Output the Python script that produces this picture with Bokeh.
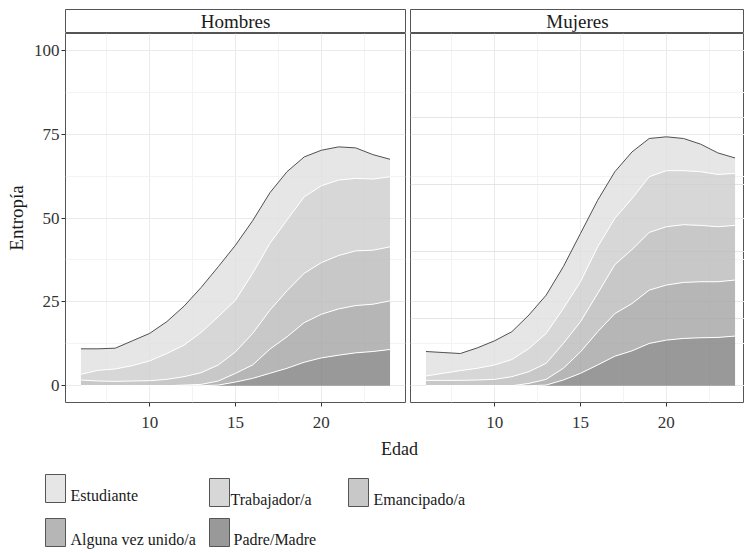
from bokeh.plotting import figure
from bokeh.models import ColumnDataSource, FixedTicker, Range1d, Grid
from bokeh.layouts import column, row
from bokeh.core.properties import value
from bokeh.transform import stack
from bokeh.embed import file_html
from bokeh.resources import INLINE

# ---------------- data ----------------
ages = list(range(6, 25))
panels = ["Hombres", "Mujeres"]
# stacking order, bottom to top
categories = ["Padre/Madre", "Alguna vez unido/a", "Emancipado/a", "Trabajador/a", "Estudiante"]
colors = ["#808080", "#a4a4a4", "#bababa", "#cdcdcd", "#e0e0e0"]
fill_alpha = 0.8

h_padre = [0, 0, 0, 0, 0, 0, 0, 0, 0.2, 1.1, 2.2, 3.7, 5.2, 7.0, 8.3, 9.1, 9.8, 10.2, 10.8]
h_unido = [0, 0, 0, 0, 0, 0, 0.2, 0.4, 1.2, 2.6, 4.0, 7.2, 9.4, 11.8, 13.0, 13.8, 14.1, 14.1, 14.5]
h_emanc = [1.7, 1.4, 1.3, 1.4, 1.5, 1.9, 2.5, 3.5, 4.8, 6.4, 9.4, 11.6, 13.7, 14.7, 15.4, 15.9, 16.3, 16.1, 16.1]
h_trab = [1.7, 3.2, 3.7, 4.6, 5.9, 7.7, 9.4, 12.0, 14.4, 15.4, 17.9, 19.9, 21.1, 22.8, 22.9, 22.5, 21.6, 21.2, 20.9]
h_estu = [7.6, 6.4, 6.2, 7.4, 8.2, 9.5, 11.6, 13.4, 14.9, 16.4, 15.7, 15.1, 14.4, 11.9, 10.6, 9.9, 9.1, 7.3, 5.2]

m_padre = [0, 0, 0, 0, 0, 0, 0, 0.2, 1.7, 3.7, 6.2, 8.8, 10.4, 12.6, 13.6, 14.1, 14.3, 14.4, 14.8]
m_unido = [0, 0, 0, 0, 0, 0, 0.7, 1.7, 3.5, 6.4, 9.9, 12.7, 14.1, 15.9, 16.4, 16.7, 16.7, 16.6, 16.7]
m_emanc = [1.6, 1.6, 1.6, 1.7, 1.9, 2.7, 3.5, 4.8, 7.4, 9.0, 11.4, 14.6, 16.1, 17.2, 17.4, 17.2, 16.8, 16.4, 16.3]
m_trab = [1.3, 2.1, 2.9, 3.5, 4.3, 5.1, 6.9, 8.9, 10.4, 11.9, 13.9, 13.8, 15.2, 16.6, 16.7, 16.1, 16.0, 15.6, 15.5]
m_estu = [7.3, 6.2, 5.1, 6.1, 7.2, 8.3, 10.0, 11.4, 12.5, 14.4, 13.9, 13.9, 13.9, 11.4, 10.1, 9.6, 8.2, 6.4, 4.6]

x_ticks = [10, 15, 20]
x_minor = [7.5, 12.5, 17.5, 22.5]
y_ticks = [0, 25, 50, 75, 100]
y_minor = [12.5, 37.5, 62.5, 87.5]

x_label = "Edad"
y_label = "Entropía"

FONT = "'Liberation Serif'"
DARK = "#555555"
GRID = "#ebebeb"
GRID_MINOR = "#f3f3f3"


def base_fig(**kw):
    return figure(output_backend="svg", toolbar_location=None, **kw)


def make_strip(name, width, left, right):
    s = base_fig(width=width, height=33, x_range=Range1d(0, 1), y_range=Range1d(0, 1),
                 x_axis_location=None, y_axis_location=None,
                 min_border_left=left, min_border_right=right,
                 min_border_top=9, min_border_bottom=0)
    s.grid.visible = False
    s.outline_line_color = DARK
    s.outline_line_width = 1
    s.background_fill_color = "white"
    s.border_fill_color = "white"
    s.text(x=[0.5], y=[0.5], text=[name], text_font=value(FONT),
           text_font_size=value("19px"), text_align="center",
           text_baseline="middle", text_color="#1a1a1a")
    return s


def make_panel(series, first, width, left, right, xend):
    kw = dict(width=width, height=405, x_range=Range1d(5.1, xend),
              y_range=Range1d(-5, 105), min_border_left=left,
              min_border_right=right, min_border_top=0, min_border_bottom=36)
    if not first:
        kw["y_axis_location"] = None
    p = base_fig(**kw)
    keys = [f"s{i}" for i in range(len(categories))]
    data = {"x": ages}
    for k, vals in zip(keys, series):
        data[k] = vals
    src = ColumnDataSource(data)

    xt = FixedTicker(ticks=x_ticks, minor_ticks=x_minor)
    yt = FixedTicker(ticks=y_ticks, minor_ticks=y_minor)

    p.xaxis.ticker = xt
    p.xgrid.grid_line_color = GRID
    p.xgrid.minor_grid_line_color = GRID_MINOR
    if first:
        p.yaxis.ticker = yt
        p.ygrid.grid_line_color = GRID
        p.ygrid.minor_grid_line_color = GRID_MINOR
        ax = p.yaxis[0]
        ax.axis_label = y_label
        ax.axis_label_text_font = FONT
        ax.axis_label_text_font_size = "19px"
        ax.axis_label_text_font_style = "normal"
        ax.axis_label_text_color = "#1a1a1a"
        ax.axis_label_standoff = 4
        ax.major_label_text_font = FONT
        ax.major_label_text_font_size = "17px"
        ax.major_label_text_color = "#333333"
        ax.major_label_standoff = 2
        ax.major_tick_out = 4
        ax.major_tick_in = 0
        ax.major_tick_line_color = "#333333"
        ax.minor_tick_line_color = None
        ax.axis_line_color = None
    else:
        g = Grid(dimension=1, ticker=yt, grid_line_color=GRID,
                 minor_grid_line_color=GRID_MINOR)
        p.add_layout(g)

    xa = p.xaxis[0]
    xa.major_label_text_font = FONT
    xa.major_label_text_font_size = "17px"
    xa.major_label_text_color = "#333333"
    xa.major_label_standoff = 10
    xa.major_tick_out = 4
    xa.major_tick_in = 0
    xa.major_tick_line_color = "#333333"
    xa.minor_tick_line_color = None
    xa.axis_line_color = None

    p.varea_stack(keys, x="x", color=colors, fill_alpha=fill_alpha, source=src)
    n = len(keys)
    for i in range(n):
        lc = "#505050" if i == n - 1 else "white"
        p.line(x="x", y=stack(*keys[:i + 1]), source=src, line_color=lc, line_width=1)

    p.outline_line_color = DARK
    p.outline_line_width = 1
    p.background_fill_color = "white"
    p.border_fill_color = "white"
    return p


hombres = [h_padre, h_unido, h_emanc, h_trab, h_estu]
mujeres = [m_padre, m_unido, m_emanc, m_trab, m_estu]

strip1 = make_strip(panels[0], 407, 65, 2)
strip2 = make_strip(panels[1], 337, 3, 0)
p1 = make_panel(hombres, True, 407, 65, 2, 24.9)
p2 = make_panel(mujeres, False, 337, 3, 0, 24.55)

# ---------------- bottom: x label and legend ----------------
bw, bh = 744, 114
b = base_fig(width=bw, height=bh, x_range=Range1d(0, bw), y_range=Range1d(bh, 0),
             x_axis_location=None, y_axis_location=None,
             min_border_left=0, min_border_right=0, min_border_top=0, min_border_bottom=0)
b.grid.visible = False
b.outline_line_color = None
b.background_fill_color = "white"
b.border_fill_color = "white"

b.text(x=[399], y=[10], text=[x_label], text_font=value(FONT),
       text_font_size=value("18px"), text_align="center", text_baseline="middle",
       text_color="#1a1a1a")

legend_order = list(reversed(categories))
legend_colors = list(reversed(colors))
# layout slots: (key_left, key_top, text_x)
slots = [(45, 36, 70), (209, 40, 230), (348, 40, 373), (45, 80, 70), (209, 80, 233)]
for lab, col, (kx, ky, tx) in zip(legend_order, legend_colors, slots):
    b.quad(left=[kx], right=[kx + 20], top=[ky], bottom=[ky + 28],
           fill_color=col, fill_alpha=fill_alpha, line_color=DARK, line_width=1)
    b.text(x=[tx], y=[ky + 21], text=[lab], text_font=value(FONT),
           text_font_size=value("16px"), text_align="left", text_baseline="middle",
           text_color="#1a1a1a")

layout = column(row(column(strip1, p1, spacing=0), column(strip2, p2, spacing=0), spacing=0),
                b, spacing=0)

open("out.html", "w").write(file_html(layout, INLINE))
